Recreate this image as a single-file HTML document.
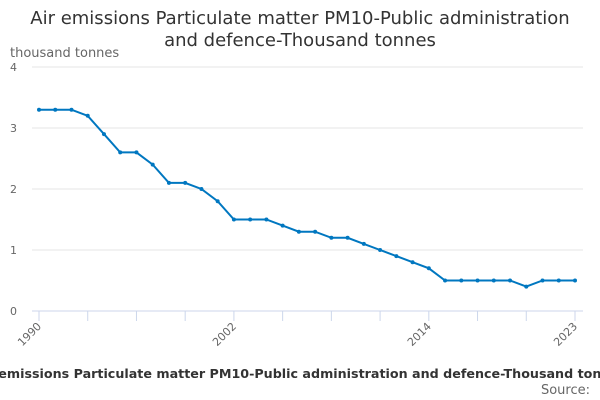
<!DOCTYPE html>
<html><head><meta charset="utf-8"><style>
body{margin:0;background:#fff;}
svg{display:block;font-family:"DejaVu Sans","Liberation Sans",sans-serif;}
</style></head><body>
<svg id="c" width="600" height="400">
<text x="300" y="24" text-anchor="middle" font-size="18" fill="#333">Air emissions Particulate matter PM10-Public administration</text>
<text x="300" y="46" text-anchor="middle" font-size="18" fill="#333">and defence-Thousand tonnes</text>
<text x="10" y="57" font-size="13" fill="#666">thousand tonnes</text>
<g id="grid"></g><g id="xaxis"></g><g id="series"></g>
<text x="300" y="378" text-anchor="middle" font-size="12.7" font-weight="bold" fill="#333">Air emissions Particulate matter PM10-Public administration and defence-Thousand tonnes</text>
<text x="590" y="394" text-anchor="end" font-size="13" fill="#666">Source:</text>
</svg>
<script>
const years=[1990,1991,1992,1993,1994,1995,1996,1997,1998,1999,2000,2001,2002,2003,2004,2005,2006,2007,2008,2009,2010,2011,2012,2013,2014,2015,2016,2017,2018,2019,2020,2021,2022,2023];
const values=[3.3,3.3,3.3,3.2,2.9,2.6,2.6,2.4,2.1,2.1,2.0,1.8,1.5,1.5,1.5,1.4,1.3,1.3,1.2,1.2,1.1,1.0,0.9,0.8,0.7,0.5,0.5,0.5,0.5,0.5,0.4,0.5,0.5,0.5];
const yTicks=[0,1,2,3,4];
const xLabels=[1990,2002,2014,2023];
const NS="http://www.w3.org/2000/svg";
const x=v=>39+(v-1990)*(575-39)/33;
const y=v=>311-v*61;
function mk(t,a,p){const e=document.createElementNS(NS,t);for(const k in a)e.setAttribute(k,a[k]);p.appendChild(e);return e;}
const grid=document.getElementById('grid'),xa=document.getElementById('xaxis'),s=document.getElementById('series');
yTicks.forEach(t=>{
 const l=mk('line',{x1:32,x2:583,y1:y(t),y2:y(t),stroke:t===0?'#ccd6eb':'#e6e6e6'},grid);
 
 
 const tx=mk('text',{x:10,y:y(t)+4,'font-size':11,fill:'#666'},grid);tx.textContent=t;
 
 
});
for(let yr=1990;yr<=2023;yr+=3){
 const tk=mk('line',{x1:x(yr),x2:x(yr),y1:311,y2:321,stroke:'#ccd6eb'},xa);
 
 
}
const tk2=mk('line',{x1:x(2023),x2:x(2023),y1:311,y2:321,stroke:'#ccd6eb'},xa);


xLabels.forEach(yr=>{
 const t=mk('text',{x:x(yr)+3,y:327,'font-size':11,fill:'#666','text-anchor':'end',transform:`rotate(-45 ${x(yr)+3} 327)`},xa);t.textContent=yr;
 
 
});
const pts=years.map((yr,i)=>x(yr)+','+y(values[i])).join(' ');
const pl=mk('polyline',{points:pts,fill:'none',stroke:'#0077c0','stroke-width':2},s);


years.forEach((yr,i)=>{
 const c=mk('circle',{cx:x(yr),cy:y(values[i]),r:2,fill:'#0077c0'},s);
 
 
});
</script>
</body></html>
